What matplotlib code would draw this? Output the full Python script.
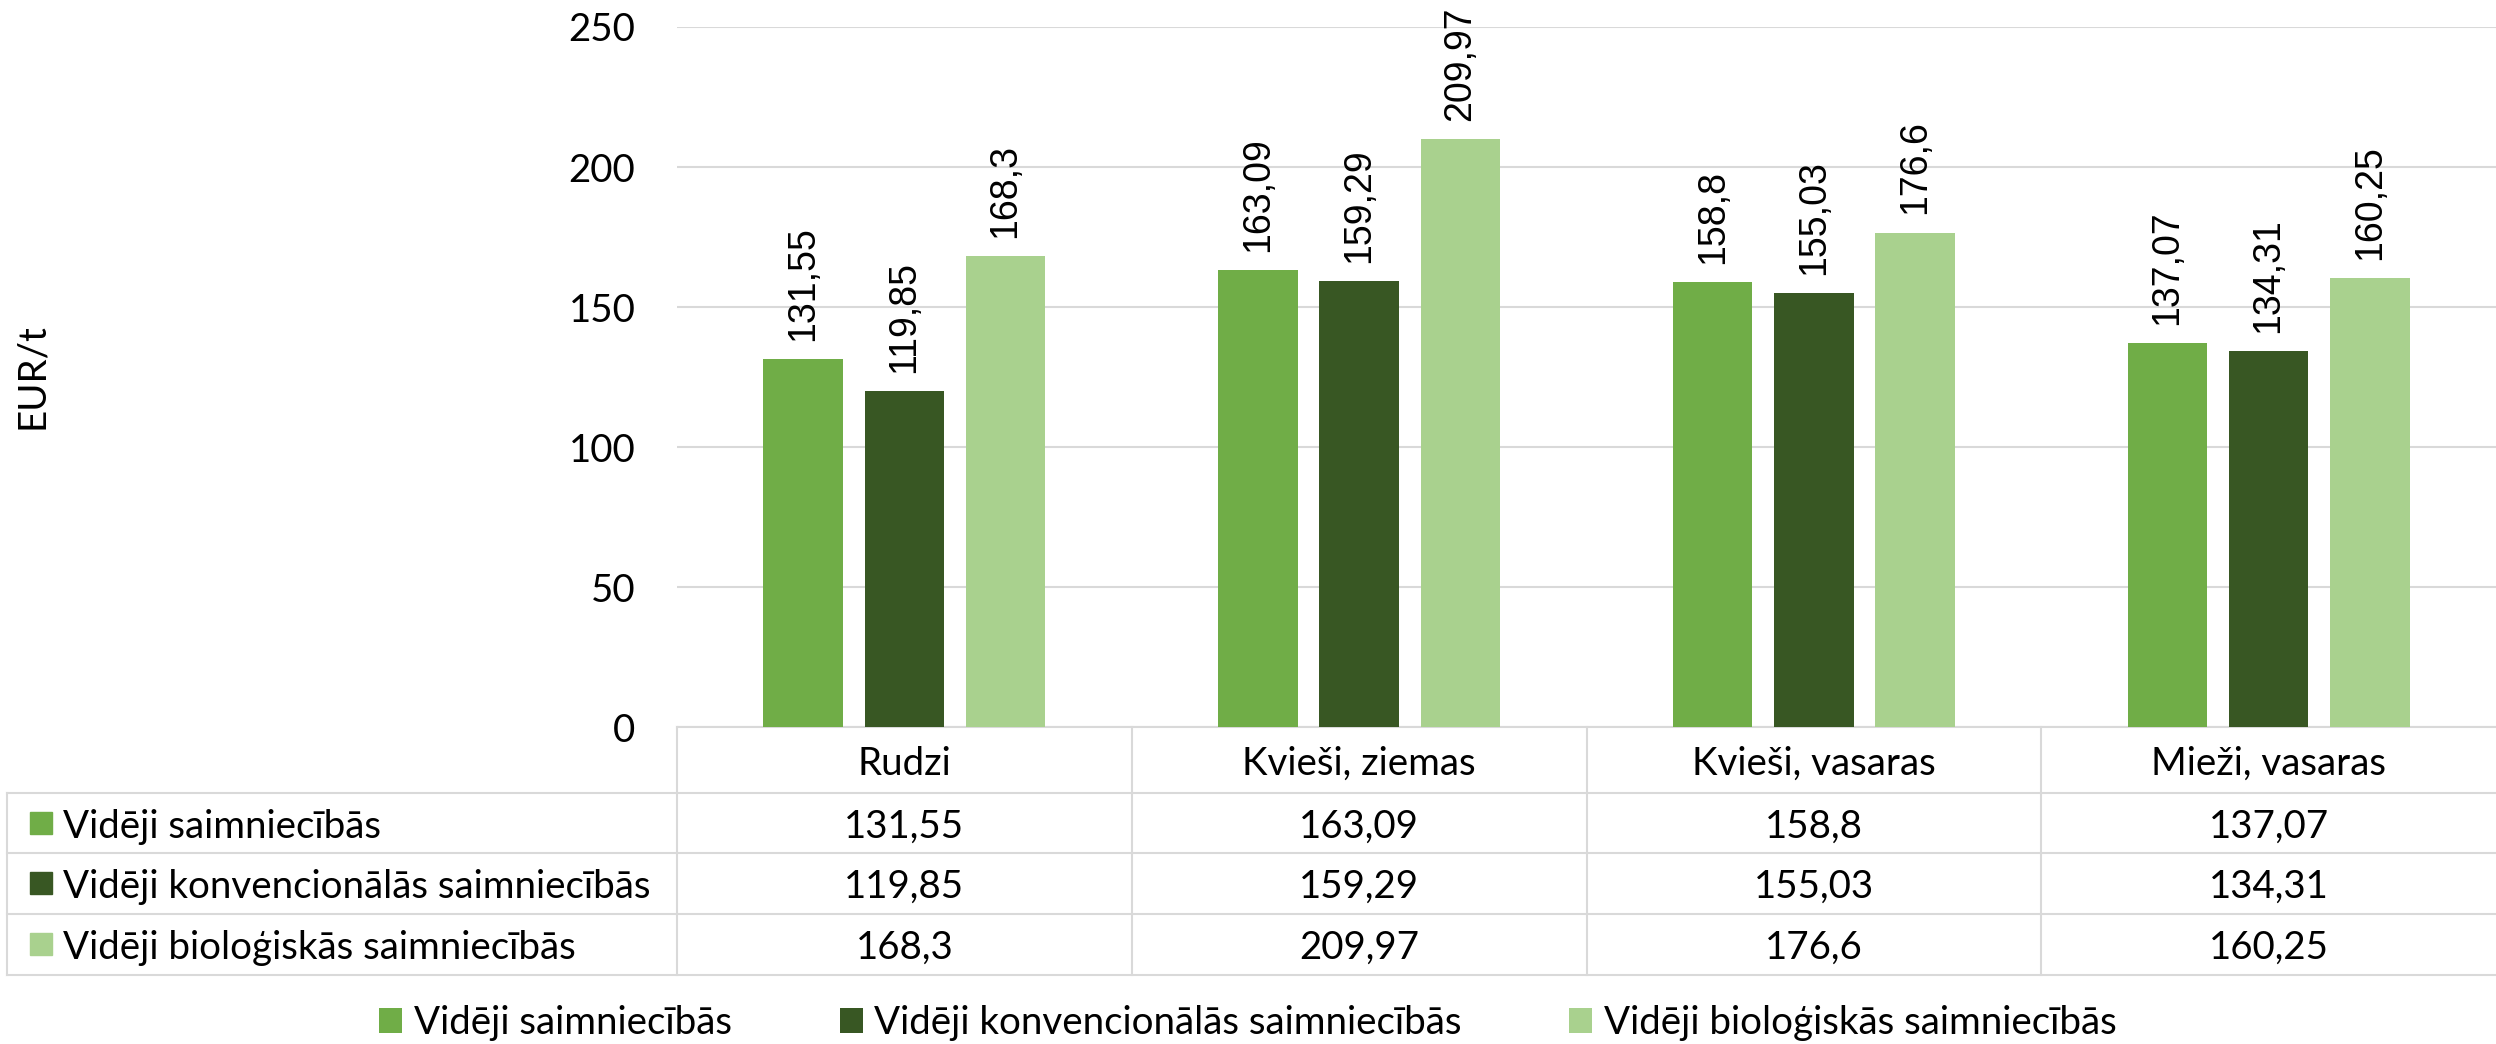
import matplotlib
matplotlib.use("Agg")
import matplotlib.pyplot as plt
import numpy as np
from matplotlib.patches import Patch

# Dati
categories = ['Rudzi', 'Kvieši, ziemas', 'Kvieši, vasaras', 'Mieži, vasaras']
series_names = ['Vidēji saimniecībās',
                'Vidēji konvencionālās saimniecībās',
                'Vidēji bioloģiskās saimniecībās']
videji = [131.55, 163.09, 158.8, 137.07]
konvencionalas = [119.85, 159.29, 155.03, 134.31]
biologiskas = [168.3, 209.97, 176.6, 160.25]
colors = ['#70AD47', '#385723', '#A9D18E']
y_ticks = [0, 50, 100, 150, 200, 250]

series = [videji, konvencionalas, biologiskas]

def fmt(v):
    return f'{v:g}'.replace('.', ',')

W, H = 2496, 1044
fig = plt.figure(figsize=(W / 100, H / 100), dpi=100)

# plot area in pixels: x 677..2496, y 27..727
ax = fig.add_axes([677 / W, 1 - 727 / H, 1 - 677 / W, 700 / H])

calibri = 'Lato'
arial = 'Liberation Sans'
fs = 27.7
grid_col = '#D9D9D9'

x = np.arange(len(categories))
width = 0.175
step = 0.2226
for i, (vals, col) in enumerate(zip(series, colors)):
    pos = x + (i - 1) * step
    ax.bar(pos, vals, width=width, color=col, zorder=3)
    for px, v in zip(pos, vals):
        ax.annotate(fmt(v), (px, v), xytext=(0, 13), textcoords='offset points',
                    rotation=90, ha='center', va='bottom',
                    fontsize=27, family=arial, color='black')

ax.set_xlim(-0.5, len(categories) - 0.5)
ax.set_ylim(0, 250)
ax.set_yticks(y_ticks)
ax.set_yticklabels([str(t) for t in y_ticks], family=calibri, fontsize=fs)
ax.set_xticks([])
ax.tick_params(axis='y', length=0, pad=30)
ax.grid(axis='y', color=grid_col, lw=1.5, zorder=0)
for s in ax.spines.values():
    s.set_visible(False)

fig.text(32 / W, 1 - 376 / H, 'EUR/t', rotation=90, ha='center', va='center',
         family=calibri, fontsize=fs)

# datu tabula zem grafika (axes koordinātēs)
tr = ax.transAxes
row_edges = [0, -0.0943, -0.18, -0.2671, -0.3543]
left_edge = (7 - 677) / 1819
line_kw = dict(color=grid_col, lw=1.5, transform=tr, clip_on=False, zorder=1)

ax.plot([0, 1], [row_edges[0], row_edges[0]], **line_kw)
for y in row_edges[1:]:
    ax.plot([left_edge, 1], [y, y], **line_kw)
for i in range(len(categories)):
    ax.plot([i / len(categories)] * 2, [0, row_edges[-1]], **line_kw)
ax.plot([left_edge, left_edge], [row_edges[1], row_edges[-1]], **line_kw)

ncat = len(categories)
for j, cat in enumerate(categories):
    ax.text((j + 0.5) / ncat, (row_edges[0] + row_edges[1]) / 2, cat,
            transform=tr, ha='center', va='center_baseline',
            family=calibri, fontsize=fs)

for r, (name, vals, col) in enumerate(zip(series_names, series, colors)):
    yc = (row_edges[r + 1] + row_edges[r + 2]) / 2
    ax.plot([(40.5 - 677) / 1819], [yc], marker='s', ms=16.5, color=col,
            transform=tr, clip_on=False, lw=0)
    ax.text((63 - 677) / 1819, yc, name, transform=tr, ha='left',
            va='center_baseline', family=calibri, fontsize=fs)
    for j, v in enumerate(vals):
        ax.text((j + 0.5) / ncat, yc, fmt(v), transform=tr, ha='center',
                va='center_baseline', family=calibri, fontsize=fs)

handles = [Patch(facecolor=c, edgecolor='none', label=n) for c, n in zip(colors, series_names)]
fig.legend(handles=handles, ncol=3, loc='center', bbox_to_anchor=(0.5, 1 - 1023 / H),
           frameon=False, prop={'family': calibri, 'size': fs},
           handlelength=0.6, handleheight=0.6, handletextpad=0.3, columnspacing=2.8)

fig.savefig('out.png', dpi=100)
